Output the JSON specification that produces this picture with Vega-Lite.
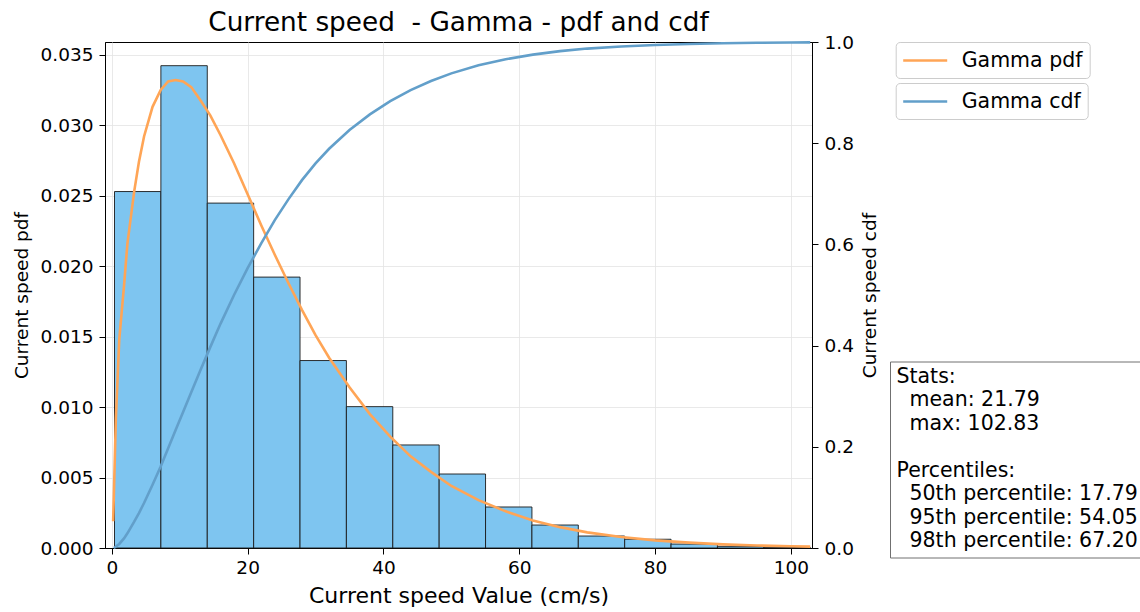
{
  "$schema": "https://vega.github.io/schema/vega-lite/v6.json",
  "width": 707,
  "height": 506,
  "autosize": {"type": "none"},
  "padding": {"left": 105, "top": 42, "right": 328, "bottom": 64},
  "background": "white",
  "config": {
    "font": "DejaVu Sans",
    "view": {"stroke": "black", "strokeWidth": 1},
    "axis": {
      "domainColor": "black", "tickColor": "black", "labelColor": "black", "titleColor": "black",
      "labelFont": "DejaVu Sans", "titleFont": "DejaVu Sans", "titleFontWeight": "normal",
      "labelFontSize": 18.5, "tickSize": 6, "tickWidth": 1, "domainWidth": 1,
      "gridColor": "#e3e3e3", "gridWidth": 0.8
    },
    "legend": {"labelFont": "DejaVu Sans", "labelColor": "black"}
  },
  "title": {
    "text": "Current speed\u00a0 - Gamma - pdf and cdf",
    "fontSize": 26.3, "fontWeight": "normal", "color": "black", "font": "DejaVu Sans",
    "anchor": "middle", "frame": "group", "baseline": "alphabetic", "offset": 10, "dy": 34
  },
  "datasets": {
    "bins": [
      {"bin_start": 0.40, "bin_end": 7.229, "density": 0.02529},
      {"bin_start": 7.229, "bin_end": 14.058, "density": 0.03422},
      {"bin_start": 14.058, "bin_end": 20.887, "density": 0.02447},
      {"bin_start": 20.887, "bin_end": 27.716, "density": 0.01922},
      {"bin_start": 27.716, "bin_end": 34.545, "density": 0.01330},
      {"bin_start": 34.545, "bin_end": 41.374, "density": 0.01003},
      {"bin_start": 41.374, "bin_end": 48.203, "density": 0.00731},
      {"bin_start": 48.203, "bin_end": 55.032, "density": 0.00525},
      {"bin_start": 55.032, "bin_end": 61.861, "density": 0.00291},
      {"bin_start": 61.861, "bin_end": 68.690, "density": 0.00163},
      {"bin_start": 68.690, "bin_end": 75.519, "density": 0.00085},
      {"bin_start": 75.519, "bin_end": 82.348, "density": 0.00062},
      {"bin_start": 82.348, "bin_end": 89.177, "density": 0.00028},
      {"bin_start": 89.177, "bin_end": 96.006, "density": 0.00012},
      {"bin_start": 96.006, "bin_end": 102.835, "density": 0.00005}
    ],
    "pdf": [
      {"x": 0.2, "pdf": 0.0019}, {"x": 0.6, "pdf": 0.0092}, {"x": 1.1, "pdf": 0.0148},
      {"x": 1.8, "pdf": 0.0186}, {"x": 2.3, "pdf": 0.0216}, {"x": 3.3, "pdf": 0.0253},
      {"x": 4.0, "pdf": 0.0274}, {"x": 4.75, "pdf": 0.0292}, {"x": 6.0, "pdf": 0.0313},
      {"x": 7.2, "pdf": 0.0325}, {"x": 8.3, "pdf": 0.0331}, {"x": 9.4, "pdf": 0.0332},
      {"x": 10.5, "pdf": 0.0331}, {"x": 11.7, "pdf": 0.0327}, {"x": 13.0, "pdf": 0.0318},
      {"x": 14.5, "pdf": 0.0307}, {"x": 16.0, "pdf": 0.0293}, {"x": 18.0, "pdf": 0.0273},
      {"x": 20.0, "pdf": 0.0251}, {"x": 22.0, "pdf": 0.0229}, {"x": 24.0, "pdf": 0.0208},
      {"x": 26.0, "pdf": 0.0188}, {"x": 28.0, "pdf": 0.0169}, {"x": 30.0, "pdf": 0.0151},
      {"x": 32.0, "pdf": 0.0135}, {"x": 35.0, "pdf": 0.0114}, {"x": 38.0, "pdf": 0.0095},
      {"x": 41.0, "pdf": 0.0079}, {"x": 44.0, "pdf": 0.0065}, {"x": 47.0, "pdf": 0.0054},
      {"x": 50.0, "pdf": 0.0044}, {"x": 54.0, "pdf": 0.0034}, {"x": 58.0, "pdf": 0.0026},
      {"x": 62.0, "pdf": 0.00195}, {"x": 66.0, "pdf": 0.00148}, {"x": 70.0, "pdf": 0.00111},
      {"x": 75.0, "pdf": 0.00078}, {"x": 80.0, "pdf": 0.00054}, {"x": 85.0, "pdf": 0.00038},
      {"x": 90.0, "pdf": 0.00026}, {"x": 95.0, "pdf": 0.00018}, {"x": 100.0, "pdf": 0.000125},
      {"x": 102.83, "pdf": 0.0001}
    ],
    "cdf": [
      {"x": 0.3, "cdf": 0.0}, {"x": 1.1, "cdf": 0.008}, {"x": 1.8, "cdf": 0.019},
      {"x": 2.3, "cdf": 0.029}, {"x": 3.3, "cdf": 0.052}, {"x": 4.0, "cdf": 0.069},
      {"x": 4.75, "cdf": 0.089}, {"x": 6.0, "cdf": 0.125}, {"x": 7.2, "cdf": 0.161},
      {"x": 8.3, "cdf": 0.197}, {"x": 9.4, "cdf": 0.233}, {"x": 10.5, "cdf": 0.269},
      {"x": 11.7, "cdf": 0.308}, {"x": 13.0, "cdf": 0.350}, {"x": 14.5, "cdf": 0.397},
      {"x": 16.0, "cdf": 0.443}, {"x": 18.0, "cdf": 0.500}, {"x": 20.0, "cdf": 0.553},
      {"x": 22.0, "cdf": 0.602}, {"x": 24.0, "cdf": 0.648}, {"x": 26.0, "cdf": 0.689},
      {"x": 28.0, "cdf": 0.727}, {"x": 30.0, "cdf": 0.760}, {"x": 32.0, "cdf": 0.789},
      {"x": 35.0, "cdf": 0.826}, {"x": 38.0, "cdf": 0.857}, {"x": 41.0, "cdf": 0.883},
      {"x": 44.0, "cdf": 0.905}, {"x": 47.0, "cdf": 0.923}, {"x": 50.0, "cdf": 0.938},
      {"x": 54.0, "cdf": 0.954}, {"x": 58.0, "cdf": 0.966}, {"x": 62.0, "cdf": 0.975},
      {"x": 66.0, "cdf": 0.982}, {"x": 70.0, "cdf": 0.987}, {"x": 75.0, "cdf": 0.991},
      {"x": 80.0, "cdf": 0.994}, {"x": 85.0, "cdf": 0.996}, {"x": 90.0, "cdf": 0.9975},
      {"x": 95.0, "cdf": 0.9985}, {"x": 100.0, "cdf": 0.999}, {"x": 102.83, "cdf": 0.9993}
    ]
  },
  "layer": [
    {
      "layer": [
        {
          "data": {"name": "bins"},
          "mark": {"type": "rect", "fill": "#7EC5F0", "stroke": "#1a1a1a", "strokeWidth": 0.9},
          "encoding": {
            "x": {
              "field": "bin_start", "type": "quantitative",
              "scale": {"domain": [-1.0, 103.1], "nice": false, "zero": false},
              "axis": {
                "values": [0, 20, 40, 60, 80, 100], "title": "Current speed Value (cm/s)",
                "titleFontSize": 22, "labelPadding": 4, "titlePadding": 9, "grid": true
              }
            },
            "x2": {"field": "bin_end"},
            "y": {
              "field": "density", "type": "quantitative",
              "scale": {"domain": [0, 0.0359], "nice": false},
              "axis": {
                "values": [0, 0.005, 0.01, 0.015, 0.02, 0.025, 0.03, 0.035], "format": ".3f",
                "title": "Current speed pdf", "titleFontSize": 18.5, "labelPadding": 6,
                "titlePadding": 9, "grid": true
              }
            },
            "y2": {"datum": 0},
            "opacity": {
              "datum": "Stats:", "type": "nominal",
              "scale": {
                "domain": ["Stats:", "\u200c\u00a0\u00a0mean: 21.79", "\u200c\u00a0\u00a0max: 102.83", "\u200c\u00a0", "Percentiles:",
                  "\u200c\u00a0\u00a050th percentile: 17.79", "\u200c\u00a0\u00a095th percentile: 54.05", "\u200c\u00a0\u00a098th percentile: 67.20"],
                "range": [1, 1]
              },
              "legend": {
                "title": null, "orient": "none", "legendX": 785, "legendY": 319.5,
                "symbolSize": 0, "symbolStrokeWidth": 0, "symbolOpacity": 0, "labelOffset": -19,
                "labelFontSize": 20.5, "labelLimit": 400, "rowPadding": 2.5, "padding": 5,
                "strokeColor": "#707070", "fillColor": "white"
              }
            }
          }
        },
        {
          "data": {"name": "pdf"},
          "mark": {"type": "line", "strokeWidth": 2.6},
          "encoding": {
            "x": {"field": "x", "type": "quantitative"},
            "y": {"field": "pdf", "type": "quantitative"},
            "color": {
              "datum": "Gamma pdf", "type": "nominal",
              "scale": {"domain": ["Gamma pdf"], "range": ["#FFA556"]},
              "legend": {
                "title": null, "orient": "none", "legendX": 790.7, "legendY": 0,
                "symbolType": "M-2.2,0H2.2", "symbolSize": 400, "symbolStrokeWidth": 2.6,
                "symbolOffset": 11, "labelOffset": 25,
                "labelFontSize": 20.5, "padding": 7,
                "strokeColor": "#cccccc", "cornerRadius": 4, "fillColor": "white"
              }
            }
          }
        }
      ]
    },
    {
      "data": {"name": "cdf"},
      "mark": {"type": "line", "strokeWidth": 2.6},
      "encoding": {
        "x": {"field": "x", "type": "quantitative"},
        "y": {
          "field": "cdf", "type": "quantitative",
          "scale": {"domain": [0, 1], "nice": false},
          "axis": {
            "orient": "right", "values": [0, 0.2, 0.4, 0.6, 0.8, 1.0], "format": ".1f",
            "title": "Current speed cdf", "titleFontSize": 18.5, "titleAngle": 270,
            "labelPadding": 6, "titlePadding": 26, "grid": false
          }
        },
        "stroke": {
          "datum": "Gamma cdf", "type": "nominal",
          "scale": {"domain": ["Gamma cdf"], "range": ["#629FCA"]},
          "legend": {
            "title": null, "orient": "none", "legendX": 790.7, "legendY": 41,
            "symbolType": "M-2.2,0H2.2", "symbolSize": 400, "symbolStrokeWidth": 2.6,
            "symbolOffset": 11, "labelOffset": 25,
            "labelFontSize": 20.5, "padding": 7,
            "strokeColor": "#cccccc", "cornerRadius": 4, "fillColor": "white"
          }
        }
      }
    }
  ],
  "resolve": {"scale": {"y": "independent"}}
}
